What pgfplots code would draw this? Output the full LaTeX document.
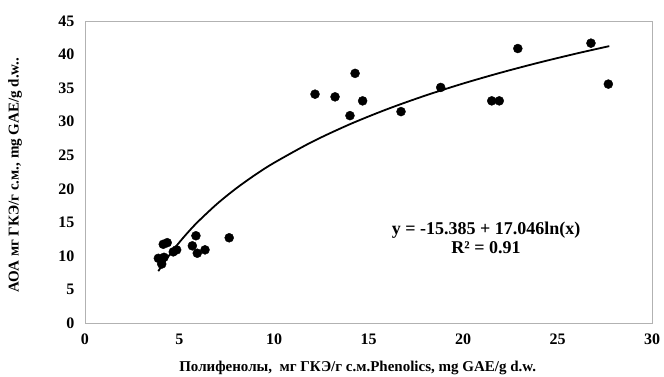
\documentclass[border=0pt]{standalone}
\usepackage{fontspec}
\setmainfont{Liberation Serif}
\usepackage{pgfplots}
\pgfplotsset{compat=1.18}
\begin{document}
\begin{tikzpicture}
\useasboundingbox (-85pt,-53pt) rectangle (579pt,323pt);
\begin{axis}[
  scale only axis,
  width=567pt, height=302pt,
  xmin=0, xmax=30, ymin=0, ymax=45,
  xtick={0,5,...,30}, ytick={0,5,...,45},
  major tick length=0pt,
  axis line style={draw=gray!60, line width=0.9pt},
  /pgf/number format/assume math mode=true,
  tick label style={font=\fontsize{16}{18}\selectfont\bfseries},
  xticklabel style={yshift=-7pt},
  yticklabel style={xshift=-7pt},
  label style={font=\fontsize{15}{17}\selectfont\bfseries},
  xlabel={Полифенолы,\ \ мг ГКЭ/г с.м.Phenolics, mg GAE/g d.w.},
  ylabel={АОА мг ГКЭ/г с.м., mg GAE/g d.w..},
  xlabel style={at={(axis description cs:0.481,-0.149)}, anchor=center},
  ylabel style={at={(axis description cs:-0.1235,0.49)}, anchor=center},
  clip=false,
]
\addplot[only marks, mark=*, mark size=4.5pt, black] coordinates {
(3.88,9.64) (4.18,9.79) (4.06,8.79)
(4.14,11.73) (4.35,11.97)
(4.67,10.6) (4.85,10.9)
(5.87,13.0) (5.68,11.5) (5.94,10.4) (6.35,10.9) (7.63,12.7)
(12.17,34.1) (13.23,33.7) (14.29,37.2) (14.69,33.1) (14.02,30.9)
(16.72,31.5) (18.82,35.1) (21.52,33.1) (21.92,33.1) (22.9,40.9)
(26.77,41.7) (27.69,35.6)
};
\addplot[smooth, black, line width=1.8pt] coordinates {
(3.88,7.726) (4.0,8.246) (4.5,10.253) (5,12.049) (5.5,13.674) (6,15.157)
(7,17.785) (8,20.061) (9,22.070) (10,23.865) (12,26.972) (14,29.600)
(16,31.877) (18,33.884) (20,35.680) (22,37.305) (24,38.788) (26,40.153)
(27.74,41.257)
};
\node[font=\fontsize{18}{19}\selectfont\bfseries, align=center, inner sep=0pt] at (axis cs:21.22,12.74)
  {y = -15.385 + 17.046ln(x)\\ R² = 0.91};
\end{axis}
\end{tikzpicture}
\end{document}
